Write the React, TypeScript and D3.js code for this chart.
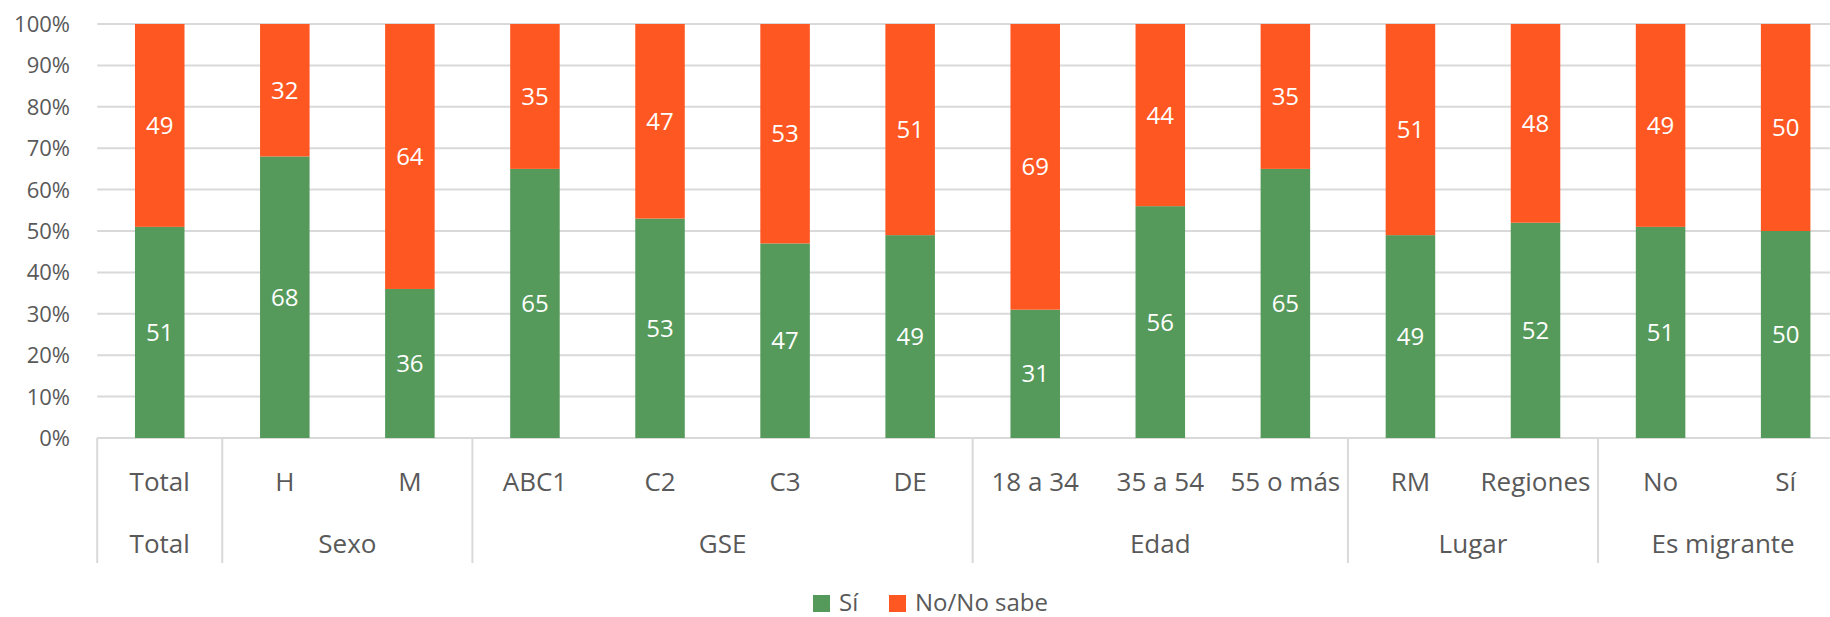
import React from "react";
import * as d3 from "d3";

const categories = ["Total", "H", "M", "ABC1", "C2", "C3", "DE", "18 a 34", "35 a 54", "55 o más", "RM", "Regiones", "No", "Sí"];
const siValues = [51, 68, 36, 65, 53, 47, 49, 31, 56, 65, 49, 52, 51, 50];
const noValues = [49, 32, 64, 35, 47, 53, 51, 69, 44, 35, 51, 48, 49, 50];
const groupNames = ["Total", "Sexo", "GSE", "Edad", "Lugar", "Es migrante"];
const groupSizes = [1, 2, 4, 3, 2, 2];
const yTicks = [0, 10, 20, 30, 40, 50, 60, 70, 80, 90, 100];
const seriesNames = ["Sí", "No/No sabe"];

const W = 1830;
const H = 617;
const FONT = "'Open Sans', sans-serif";
const TEXT = "#595959";
const GRID = "#d9d9d9";
const GREEN = "#559a5b";
const ORANGE = "#ff5722";

export default function App() {
  const left = 97.2;
  const step = 125.07;
  const x = d3.scaleBand<string>().domain(categories).range([left, left + step * categories.length]).padding(0);
  const y = d3.scaleLinear().domain([0, 100]).range([438, 24]);
  const barW = x.bandwidth() * 0.396;

  const rows = categories.map((c, i) => ({ cat: c, si: siValues[i], no: noValues[i] }));
  const stack = d3.stack<any>().keys(["si", "no"]).offset(d3.stackOffsetExpand);
  const series = stack(rows);
  const colors = [GREEN, ORANGE];

  const bounds: number[] = [0];
  groupSizes.forEach((s) => bounds.push(bounds[bounds.length - 1] + s));
  const bx = (i: number) => (i < categories.length ? (x(categories[i]) as number) : left + step * categories.length);

  return (
    <svg width={W} height={H} style={{ position: "absolute", left: 0, top: 0, background: "#fff" }}>
      {yTicks.map((t) => (
        <g key={t}>
          <line x1={left} x2={W} y1={y(t)} y2={y(t)} stroke={GRID} strokeWidth={2} />
          <text x={70} y={y(t)} dy="0.36em" textAnchor="end" fontFamily={FONT} fontSize={22} fill={TEXT}>
            {t}%
          </text>
        </g>
      ))}
      {series.map((s, si) =>
        s.map((d, i) => {
          const cx = (x(categories[i]) as number) + x.bandwidth() / 2;
          const y0 = y(d[0] * 100);
          const y1 = y(d[1] * 100);
          const val = si === 0 ? siValues[i] : noValues[i];
          return (
            <g key={si + "-" + i}>
              <rect x={cx - barW / 2} y={y1} width={barW} height={y0 - y1} fill={colors[si]} />
              <text x={cx} y={(y0 + y1) / 2} dy="0.36em" textAnchor="middle" fontFamily={FONT} fontSize={24} fill="#fff">
                {val}
              </text>
            </g>
          );
        })
      )}
      {bounds.map((b, i) => (
        <line key={"sep" + i} x1={bx(b)} x2={bx(b)} y1={438} y2={563} stroke={GRID} strokeWidth={2} />
      ))}
      {categories.map((c) => (
        <text key={"c" + c} x={(x(c) as number) + x.bandwidth() / 2} y={490.5} textAnchor="middle" fontFamily={FONT} fontSize={26} fill={TEXT}>
          {c}
        </text>
      ))}
      {groupNames.map((g, i) => (
        <text key={"g" + g} x={(bx(bounds[i]) + bx(bounds[i + 1])) / 2} y={553} textAnchor="middle" fontFamily={FONT} fontSize={26} fill={TEXT}>
          {g}
        </text>
      ))}
      <g>
        <rect x={813} y={595} width={17} height={17} fill={GREEN} />
        <text x={839} y={611} fontFamily={FONT} fontSize={24} fill={TEXT}>{seriesNames[0]}</text>
        <rect x={889} y={595} width={17} height={17} fill={ORANGE} />
        <text x={915} y={611} fontFamily={FONT} fontSize={24} fill={TEXT}>{seriesNames[1]}</text>
      </g>
    </svg>
  );
}
